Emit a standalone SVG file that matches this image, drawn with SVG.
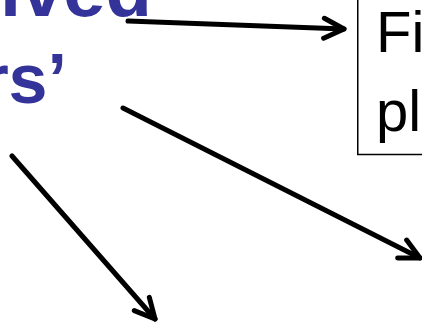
<svg xmlns="http://www.w3.org/2000/svg" width="422" height="322" viewBox="0 0 422 322">
  <style>
    .title { font-family: "Liberation Sans", Arial, sans-serif; font-weight: bold; font-size: 70px; fill: #333399; }
    .label { font-family: "Liberation Sans", Arial, sans-serif; font-size: 58px; fill: #000000; }
    .box { fill: #ffffff; stroke: #000000; stroke-width: 1.5; }
    .conn { fill: none; stroke: #000000; stroke-width: 5; stroke-linecap: round; }
  </style>
  <defs>
    <marker id="ah" markerUnits="userSpaceOnUse" orient="auto" viewBox="-26 -16 32 32" markerWidth="32" markerHeight="32" refX="0" refY="0" overflow="visible">
      <path d="M -20 -10 L 0 0 L -20 10" fill="none" stroke="#000000" stroke-width="5" stroke-linecap="round" stroke-linejoin="round"/>
    </marker>
  </defs>
  <rect x="0" y="0" width="422" height="322" fill="#ffffff"/>
  <g id="title-node">
    <text class="title" x="152" y="16" text-anchor="end" style="font-size:76px">ived</text>
    <text class="title" x="67" y="103" text-anchor="end">rs’</text>
  </g>
  <g id="box-node">
    <rect class="box" x="357.75" y="-10" width="80" height="164.5"/>
    <text class="label" x="376" y="52">Fi</text>
    <text class="label" x="376" y="131">pl</text>
  </g>
  <g id="connectors">
    <line class="conn" x1="128" y1="21" x2="344" y2="29" marker-end="url(#ah)"/>
    <line class="conn" x1="123" y1="108" x2="420" y2="258" marker-end="url(#ah)"/>
    <line class="conn" x1="12" y1="156" x2="155" y2="319" marker-end="url(#ah)"/>
  </g>
</svg>
